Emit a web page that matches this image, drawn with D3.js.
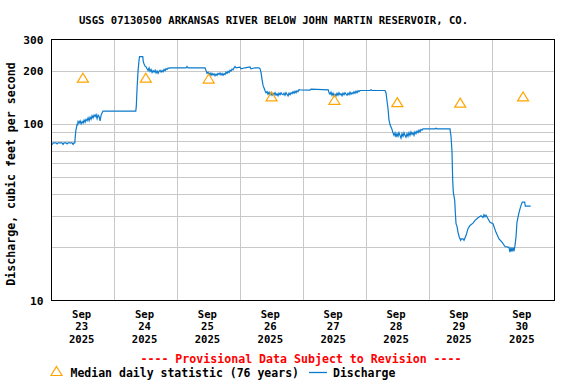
<!DOCTYPE html>
<html>
<head>
<meta charset="utf-8">
<script src="https://cdn.jsdelivr.net/npm/d3@7"></script>
<style>
  html, body { margin: 0; padding: 0; background: #fff; }
  svg { display: block; }
  text { font-family: "DejaVu Sans Mono", "Liberation Mono", monospace; font-weight: bold; }
</style>
</head>
<body>
<svg id="chart" width="576" height="384"></svg>
<script>
// ---------- DATA ----------
const title = "USGS 07130500 ARKANSAS RIVER BELOW JOHN MARTIN RESERVOIR, CO.";
const yAxisTitle = "Discharge, cubic feet per second";
const startDate = "2025-09-23T00:00:00Z";
const endDate = "2025-10-01T00:00:00Z";
const dayLabels = ["23", "24", "25", "26", "27", "28", "29", "30"];
const monthLabel = "Sep";
const yearLabel = "2025";
const yTickValues = [10, 100, 200, 300];
const yGridValues = [20, 30, 40, 50, 60, 70, 80, 90, 100, 200];

// Median daily statistic (76 years), one per day (plotted at noon)
const medianValues = [180, 180, 178, 141, 135, 131, 130, 141];

// Discharge: hours since start, cfs
const dischargeHours = [
  0, 0.42, 0.61, 1.76, 2.14, 2.52, 4.04, 4.43, 4.81, 5.57, 5.95, 6.33, 7.86, 8.24, 8.62, 8.89,
  9.08, 9.31, 9.58, 9.77, 9.96, 10.15, 10.53, 10.91, 11.30, 11.68, 12.06, 12.44, 12.82, 13.20,
  13.59, 13.97, 14.35, 14.73, 15.11, 15.49, 15.87, 16.26, 16.64, 17.02, 17.40, 17.78, 18.16,
  18.55, 18.93, 19.31, 19.69, 20.07, 32.17,
  32.36, 32.67, 33.05, 33.43, 33.62, 34.84, 35.03, 35.34, 35.72, 36.10, 36.48, 36.86, 37.24,
  37.62, 38.01, 38.39, 38.77, 39.15, 39.53, 39.91, 40.29, 40.68, 41.06, 41.44, 41.82, 42.20,
  42.58, 42.97, 43.35, 43.73, 44.11, 44.49, 44.87, 45.25, 51.36, 51.74, 52.12, 58.61,
  58.99, 59.37, 59.75, 60.13, 60.52, 60.90, 61.28, 61.66, 62.04, 62.42, 62.81, 63.19, 63.57,
  63.95, 64.33, 64.71, 65.10, 65.48, 65.86, 66.24, 66.62, 67.00, 67.39, 67.77, 68.15, 68.53,
  68.91, 69.29, 69.68, 70.06, 70.44, 71.96, 72.35, 73.87, 75.78, 76.16, 77.69, 79.20,
  79.60, 79.99, 80.37, 80.75, 81.24, 81.51, 81.89, 82.27, 82.65, 83.04, 83.42, 83.80, 84.18,
  84.56, 84.94, 85.33, 85.71, 86.09, 86.47, 86.85, 87.23, 87.61, 88.00, 88.38, 88.76, 89.14,
  89.52, 89.90, 90.29, 90.67, 91.05, 91.43, 91.81, 92.19, 92.58, 92.96, 93.34, 93.72, 94.10,
  94.48, 94.87, 98.68, 99.06, 105.66,
  105.93, 106.31, 106.69, 107.07, 107.46, 107.84, 108.22, 108.60, 108.98, 109.36, 109.74,
  110.13, 110.51, 110.89, 111.27, 111.65, 112.03, 112.42, 112.80, 113.18, 113.56, 113.94,
  114.32, 114.71, 115.09, 115.47, 115.85, 116.23, 116.61, 117.00, 117.38, 117.76, 121.58,
  121.96, 122.35, 127.30,
  127.68, 128.06, 128.44, 128.83, 129.21, 129.59, 129.97, 130.35, 130.74, 131.12, 131.50,
  131.88, 132.26, 132.64, 133.02, 133.41, 133.79, 134.17, 134.55, 134.93, 135.31, 135.70,
  136.08, 136.46, 136.84, 137.22, 137.60, 137.99, 138.37, 138.75, 139.13, 139.51, 139.89,
  140.28, 140.66, 141.04, 141.42, 141.80, 146.38, 146.76, 147.14, 152.11,
  152.49, 152.87, 153.14, 153.37, 153.91, 154.14, 154.41, 154.79, 155.17, 155.66, 156.20,
  156.43, 157.08, 157.46, 158.22, 158.99, 159.75, 160.89, 161.66, 162.80, 163.95, 164.71,
  165.09, 165.48, 165.86, 166.62, 167.38, 168.53, 169.67, 170.82, 171.96, 173.11, 174.63,
  175.01, 175.39, 175.78, 176.16, 176.54, 176.92, 177.30, 177.68, 178.33, 178.83, 179.32,
  179.70, 180.62, 180.85, 182.90
];
const dischargeValues = [
  76, 77, 78, 78, 77, 78, 78, 76.5, 78, 78, 77, 78, 78, 76.5, 78, 78,
  85, 92, 96, 100, 98, 103, 101, 104, 100, 103, 101, 105, 102, 106,
  104, 108, 104, 109, 106, 111, 108, 112, 110, 113, 107, 112, 110,
  104, 112, 115, 118, 118, 118,
  125, 160, 200, 230, 240, 240, 225, 218, 212, 210, 205, 200, 207,
  198, 203, 195, 200, 196, 201, 194, 199, 193, 198, 201, 196, 200,
  197, 203, 200, 205, 203, 207, 206, 207.5, 207.5, 211, 207.5, 207.5,
  200, 193, 196, 190, 194, 188, 193, 189, 192, 187, 191, 188, 193,
  190, 194, 189, 193, 188, 192, 190, 196, 193, 198, 195, 201, 199,
  204, 202, 207.5, 211, 207.5, 209, 205, 207.5, 210, 205, 207.5, 207.5,
  205, 195, 178, 165, 158, 154, 150, 152, 147, 151, 146, 150, 145,
  149, 146, 150, 145, 148, 144, 149, 146, 150, 147, 146, 149, 145,
  150, 147, 144, 149, 146, 150, 148, 152, 149, 153, 150, 154, 152,
  156, 155.8, 155, 157, 155.8,
  150, 147, 151, 145, 149, 143, 147, 144, 149, 145, 150,
  146, 148, 144, 149, 146, 150, 147, 145, 149, 146, 151,
  147, 150, 148, 152, 149, 153, 150, 154, 152, 154.3, 154.3,
  156, 154.3, 154.3,
  150, 135, 122, 105, 99, 96, 93, 89, 86, 89, 84,
  88, 85, 89, 86, 83, 88, 85, 89, 86, 84, 88,
  85, 89, 86, 90, 87, 89, 86, 90, 88, 91, 89,
  92, 90, 93, 92, 93.7, 93.7, 94.5, 93.7, 93.7,
  85, 70, 48, 41, 36.8, 31.6, 27.2, 26.3, 24.3, 22.8, 21.9,
  22.3, 22.3, 21.9, 23.3, 25.5, 26.6, 27.4, 28.4, 29.4, 30.2, 29.5,
  30.6, 29.8, 30.4, 29.0, 27.7, 27.2, 24.3, 22.3, 21.4, 20.2, 20,
  18.8, 20, 18.9, 20, 19, 20.5, 22.8, 27.7, 30.9, 33, 34.9,
  36, 36, 34.2, 34.2
];

const legendMedian = "Median daily statistic (76 years)";
const legendDischarge = "Discharge";
const provisionalText = "---- Provisional Data Subject to Revision ----";

// ---------- CHART ----------
(function () {
const svg = d3.select("#chart");
const pL = 51.5, pR = 554.5, pT = 39.5, pB = 300.5;
const t0 = new Date(startDate), t1 = new Date(endDate);
const HOUR = 3600 * 1000;

const x = d3.scaleUtc().domain([t0, t1]).range([pL, pR]);
const y = d3.scaleLog().domain([10, 300]).range([pB, pT]);

const blue = "#0a7acc";
const orange = "#ffa500";
const gridColor = "#c8c8c8";

// Grid
const days = d3.utcDay.range(d3.utcDay.offset(t0, 1), t1);
svg.append("g").selectAll("line").data(days).join("line")
  .attr("x1", d => Math.round(x(d)) + 0.5).attr("x2", d => Math.round(x(d)) + 0.5)
  .attr("y1", pT).attr("y2", pB)
  .attr("stroke", gridColor).attr("stroke-width", 1);
svg.append("g").selectAll("line").data(yGridValues).join("line")
  .attr("x1", pL).attr("x2", pR)
  .attr("y1", d => Math.round(y(d)) + 0.5).attr("y2", d => Math.round(y(d)) + 0.5)
  .attr("stroke", gridColor).attr("stroke-width", 1);

// Discharge line
const n = Math.min(dischargeHours.length, dischargeValues.length);
const pts = d3.range(n).map(i => [new Date(t0.getTime() + dischargeHours[i] * HOUR), dischargeValues[i]]);
const line = d3.line().x(d => x(d[0])).y(d => y(d[1]));
svg.append("path").datum(pts)
  .attr("d", line).attr("fill", "none")
  .attr("stroke", blue).attr("stroke-width", 1.2);

// Median triangles
const tri = "M0,-5.5 L5.5,3.5 L-5.5,3.5 Z";
const medPts = medianValues.map((v, i) => [new Date(t0.getTime() + (i * 24 + 12) * HOUR), v]);
svg.append("g").selectAll("path").data(medPts).join("path")
  .attr("d", tri)
  .attr("transform", d => `translate(${x(d[0])},${y(d[1])})`)
  .attr("fill", "none").attr("stroke", orange).attr("stroke-width", 1.2);

// Frame
svg.append("rect").attr("x", pL).attr("y", pT)
  .attr("width", pR - pL).attr("height", pB - pT)
  .attr("fill", "none").attr("stroke", "#000").attr("stroke-width", 1);

// Y tick labels
svg.append("g").selectAll("text").data(yTickValues).join("text")
  .attr("x", 43.5).attr("y", d => y(d) + 4)
  .attr("text-anchor", "end").attr("font-size", 11.2)
  .text(d => d);

// X tick labels (at noon)
const xg = svg.append("g");
const lineYs = [317.5, 330, 342.5];
dayLabels.forEach((lab, i) => {
  const cx = x(new Date(t0.getTime() + (i * 24 + 12) * HOUR)) - 1.3;
  [monthLabel, lab, yearLabel].forEach((s, k) => {
    xg.append("text").attr("x", cx).attr("y", lineYs[k])
      .attr("text-anchor", "middle").attr("font-size", 10.6).text(s);
  });
});

// Title
svg.append("text").attr("x", 273.5).attr("y", 24)
  .attr("text-anchor", "middle").attr("font-size", 10.6).text(title);

// Y axis title
svg.append("text")
  .attr("transform", "translate(15,174) rotate(-90)")
  .attr("text-anchor", "middle").attr("font-size", 11.6).text(yAxisTitle);

// Provisional
svg.append("text").attr("x", 301).attr("y", 362.5)
  .attr("text-anchor", "middle").attr("font-size", 11.6)
  .attr("fill", "#ff0000").text(provisionalText);

// Legend
svg.append("path").attr("d", tri)
  .attr("transform", "translate(56.5,372)")
  .attr("fill", "none").attr("stroke", orange).attr("stroke-width", 1.2);
svg.append("text").attr("x", 70.5).attr("y", 376.5).attr("font-size", 11.5).text(legendMedian);
svg.append("line").attr("x1", 309).attr("x2", 327).attr("y1", 372.5).attr("y2", 372.5)
  .attr("stroke", blue).attr("stroke-width", 1.3);
svg.append("text").attr("x", 333).attr("y", 376.5).attr("font-size", 11.5).text(legendDischarge);
})();
</script>
</body>
</html>
